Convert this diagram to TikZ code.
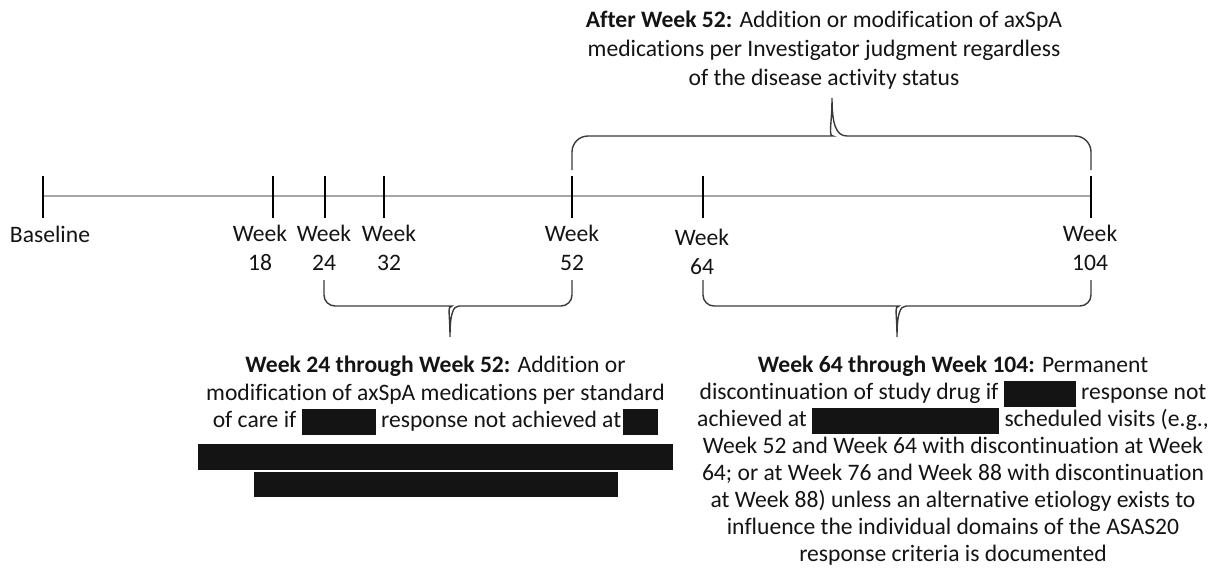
\documentclass[tikz,border=0pt]{standalone}
\usepackage{fontspec}
\setmainfont{Carlito}[Ligatures=NoCommon]
\usetikzlibrary{positioning,calc}
\definecolor{axisgray}{HTML}{A6A6A6}
\definecolor{bracegray}{HTML}{3A3A3A}
\definecolor{inkgray}{HTML}{141414}
\newcommand{\blackout}[1]{\rule[-7pt]{#1}{26pt}}

\begin{document}
\begin{tikzpicture}[x=1pt,y=-1pt]
  \tikzstyle{tick}=[line width=1.5pt, black]
  \tikzstyle{axis}=[line width=2pt, axisgray]
  \tikzstyle{brace}=[line width=1.4pt, bracegray]
  \tikzstyle{lbl}=[inner sep=0pt, align=center, text=inkgray, anchor=north, font=\fontsize{23.6}{28.8}\selectfont]
  \tikzstyle{note}=[lbl, font=\fontsize{23.6}{26.9}\selectfont]

  \useasboundingbox (0,0) rectangle (1221,568);

  % Timeline
  \coordinate (t0) at (43,196);
  \coordinate (t18) at (273,196);
  \coordinate (t24) at (325,196);
  \coordinate (t32) at (384,196);
  \coordinate (t52) at (572,196);
  \coordinate (t64) at (703,196);
  \coordinate (t104) at (1091,196);
  \draw[axis] (t0) -- (t104);
  \foreach \t in {t0,t18,t24,t32,t52,t64,t104}
    \draw[tick] ($(\t)+(0,-20)$) -- ($(\t)+(0,22)$);

  % Labels
  \node[lbl] (lbase) at (50,226) {Baseline};
  \node[lbl] (l18) at (260,225) {Week\\18};
  \node[lbl] (l24) at (324,225) {Week\\24};
  \node[lbl] (l32) at (389,225) {Week\\32};
  \node[lbl] (l52) at (572,225) {Week\\52};
  \node[lbl] (l64) at (702,229) {Week\\64};
  \node[lbl] (l104) at (1090,225) {Week\\104};

  % Braces
  \draw[brace] (572,170) [rounded corners=16] -- (572,136) -- (817,136) [sharp corners]
    .. controls (828,136) and (832,124) .. (832,98)
    .. controls (832,124) and (836,136) .. (847,136) [rounded corners=16] -- (1091,136) -- (1091,170);
  \draw[brace] (324,280) [rounded corners=11] -- (324,306) -- (441,306) [sharp corners]
    .. controls (447,306) and (450,314) .. (450,337)
    .. controls (450,314) and (453,306) .. (459,306) [rounded corners=11] -- (572,306) -- (572,280);
  \draw[brace] (703,280) [rounded corners=11] -- (703,306) -- (888,306) [sharp corners]
    .. controls (894,306) and (897,314) .. (897,337)
    .. controls (897,314) and (900,306) .. (906,306) [rounded corners=11] -- (1091,306) -- (1091,280);

  % Notes
  \node[lbl] (after) at (824,11) {\textbf{After Week 52:} Addition or modification of axSpA\\medications per Investigator judgment regardless\\of the disease activity status};
  \node[note, font=\fontsize{23.6}{27.4}\selectfont] (mid) at (435.5,356) {\textbf{Week 24 through Week 52:} Addition or\\modification of axSpA medications per standard\\of care if \blackout{74pt} response not achieved at\hspace{2pt}\blackout{35pt}\\\rule[-15pt]{475pt}{26pt}\\\rule[-15pt]{364pt}{25pt}};
  \node[note] (late) at (953,356) {\textbf{Week 64 through Week 104:} Permanent\\discontinuation of study drug if \blackout{72pt} response not\\achieved at \blackout{187pt} scheduled visits (e.g.,\\Week 52 and Week 64 with discontinuation at Week\\64; or at Week 76 and Week 88 with discontinuation\\at Week 88) unless an alternative etiology exists to\\influence the individual domains of the ASAS20\\response criteria is documented};
\end{tikzpicture}
\end{document}
